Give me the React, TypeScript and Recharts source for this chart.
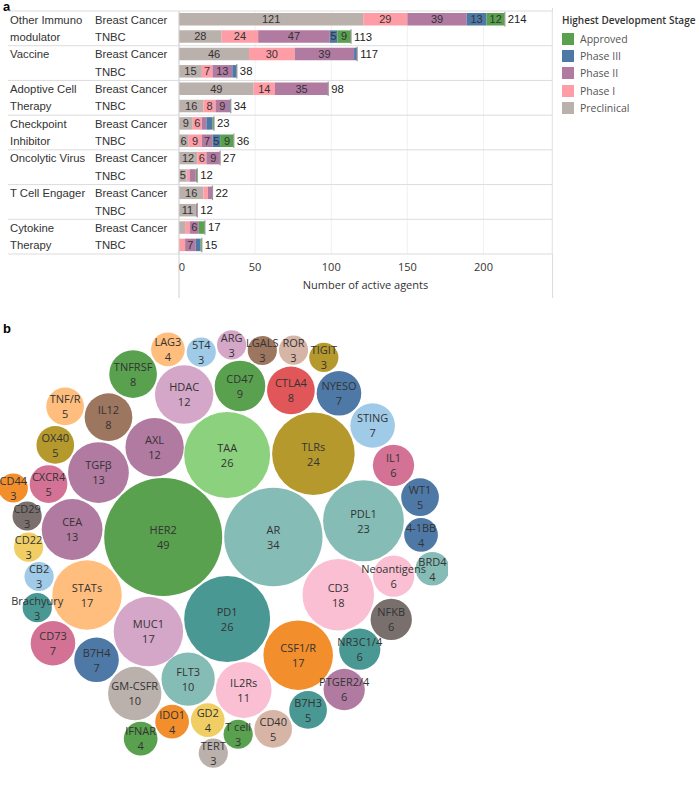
import { BarChart, Bar, XAxis, YAxis, CartesianGrid, LabelList, ScatterChart, Scatter, ZAxis } from 'recharts'

// ---- panel a data ----
const groups = [
  ['Other Immuno', 'modulator'],
  ['Vaccine'],
  ['Adoptive Cell', 'Therapy'],
  ['Checkpoint', 'Inhibitor'],
  ['Oncolytic Virus'],
  ['T Cell Engager'],
  ['Cytokine', 'Therapy'],
]
const indications = ['Breast Cancer', 'TNBC']
const stages = ['Approved', 'Phase III', 'Phase II', 'Phase I', 'Preclinical']
// one value per row: group 1 BC, group 1 TNBC, group 2 BC, ...
const preclinical = [121, 28, 46, 15, 49, 16, 9, 6, 12, 5, 16, 11, 4, 0]
const phase1 = [29, 24, 30, 7, 14, 8, 6, 9, 6, 2, 3, 0, 3, 4]
const phase2 = [39, 47, 39, 13, 35, 9, 3, 7, 9, 4, 3, 1, 6, 7]
const phase3 = [13, 5, 2, 3, 0, 1, 4, 5, 0, 0, 0, 0, 0, 3]
const approved = [12, 9, 0, 0, 0, 0, 1, 9, 0, 1, 0, 0, 4, 1]
const xTicks = [0, 50, 100, 150, 200]

const stageColors: Record<string, string> = {
  Approved: '#59A14F',
  'Phase III': '#4E79A7',
  'Phase II': '#B07AA1',
  'Phase I': '#FF9DA7',
  Preclinical: '#BAB0AC',
}

// ---- panel b data (largest first) ----
const targets = ['HER2', 'AR', 'TAA', 'PD1', 'TLRs', 'PDL1', 'CD3', 'CSF1/R', 'MUC1', 'STATs', 'CEA', 'TGFβ', 'AXL', 'HDAC', 'IL2Rs', 'FLT3', 'GM-CSFR', 'CD47', 'CTLA4', 'IL12', 'TNFRSF', 'B7H4', 'CD73', 'NYESO', 'STING', 'IL1', 'Neoantigens', 'NFKB', 'NR3C1/4', 'PTGER2/4', 'B7H3', 'CD40', 'CXCR4', 'OX40', 'TNF/R', 'WT1', '4-1BB', 'BRD4', 'GD2', 'IDO1', 'IFNAR', 'LAG3', '5T4', 'ARG', 'Brachyury', 'CB2', 'CD22', 'CD29', 'CD44', 'LGALS', 'ROR', 'T cell', 'TERT', 'TIGIT']
const targetCounts = [49, 34, 26, 26, 24, 23, 18, 17, 17, 17, 13, 13, 12, 12, 11, 10, 10, 9, 8, 8, 8, 7, 7, 7, 7, 6, 6, 6, 6, 6, 5, 5, 5, 5, 5, 5, 4, 4, 4, 4, 4, 4, 3, 3, 3, 3, 3, 3, 3, 3, 3, 3, 3, 3]
const targetColors = ['#59A14F', '#86BCB6', '#8CD17D', '#499894', '#B6992D', '#86BCB6', '#FABFD2', '#F28E2B', '#D4A6C8', '#FFBE7D', '#B07AA1', '#B07AA1', '#B07AA1', '#D4A6C8', '#FABFD2', '#86BCB6', '#BAB0AC', '#59A14F', '#E15759', '#9D7660', '#59A14F', '#4E79A7', '#D37295', '#4E79A7', '#A0CBE8', '#D37295', '#FABFD2', '#79706E', '#499894', '#B07AA1', '#499894', '#D7B5A6', '#D37295', '#B6992D', '#FFBE7D', '#4E79A7', '#4E79A7', '#86BCB6', '#F1CE63', '#F28E2B', '#59A14F', '#FFBE7D', '#A0CBE8', '#D4A6C8', '#499894', '#A0CBE8', '#F1CE63', '#79706E', '#F28E2B', '#9D7660', '#D7B5A6', '#59A14F', '#BAB0AC', '#B6992D']

const seriesKeys = ['preclinical', 'phase1', 'phase2', 'phase3', 'approved']

const rows = groups.flatMap((g, gi) =>
  indications.map((ind, ii) => {
    const i = gi * 2 + ii
    return {
      id: `${gi}-${ii}`,
      group: gi,
      sub: ii,
      ind,
      preclinical: preclinical[i],
      phase1: phase1[i],
      phase2: phase2[i],
      phase3: phase3[i],
      approved: approved[i],
      total: preclinical[i] + phase1[i] + phase2[i] + phase3[i] + approved[i],
    }
  })
)

const ROW_FONT = '"Liberation Sans", Arial, sans-serif'
const TAB_FONT = '"Open Sans", "Noto Sans", sans-serif'
const CHART_H = 300
const TOP = 11
const PLOT_BOTTOM = 254
const PLOT_RIGHT = 552
const band = (PLOT_BOTTOM - TOP) / rows.length

const RowTick = (props: any) => {
  const { y, payload } = props
  const row = rows.find((r) => r.id === payload.value)
  if (!row) return null
  const last = row.group === groups.length - 1 && row.sub === 1
  return (
    <g>
      {row.sub === 0 && (
        <line x1={8} x2={PLOT_RIGHT} y1={y - band / 2} y2={y - band / 2} stroke="#dcdcdc" />
      )}
      {last && <line x1={8} x2={PLOT_RIGHT} y1={y + band / 2} y2={y + band / 2} stroke="#dcdcdc" />}
      {row.sub === 0 &&
        groups[row.group].map((t, k) => (
          <text key={k} x={10} y={y + k * band} dy="0.35em" fontSize={11.3} fill="#333" fontFamily={ROW_FONT}>
            {t}
          </text>
        ))}
      <text x={95} y={y} dy="0.35em" fontSize={11.3} fill="#333" fontFamily={ROW_FONT}>
        {row.ind}
      </text>
    </g>
  )
}

const AxisTick = (props: any) => {
  const { x, y, payload } = props
  return (
    <g>
      {payload.value === 0 && <line x1={x} x2={x} y1={y - 10} y2={y + 36} stroke="#cfcfcf" />}
      <text x={payload.value === 0 ? x + 3 : x} y={y + 5} dy="0.35em" textAnchor="middle" fontSize={11} fill="#333" fontFamily={TAB_FONT}>
        {payload.value}
      </text>
    </g>
  )
}

const SegLabel = (props: any) => {
  const vb = props.viewBox ?? props
  const { x, y, width, height } = vb
  const v = Number(props.value)
  if (!v || v < 5) return null
  return (
    <text x={x + width / 2} y={y + height / 2} dy="0.35em" textAnchor="middle" fontSize={11} fill="#333" fontFamily={ROW_FONT}>
      {v}
    </text>
  )
}

// the total is drawn by the last non-empty segment of each row
const makeTotal = (key: string) => (props: any) => {
  const vb = props.viewBox ?? props
  const { x, y, width, height } = vb
  const idx = Math.floor((y + height / 2 - TOP) / band)
  const row: any = rows[idx]
  if (!row) return null
  const lastKey = [...seriesKeys].reverse().find((k) => row[k] > 0)
  if (lastKey !== key) return null
  const end = x + width
  return (
    <g>
      <line x1={end} x2={end} y1={y - 1} y2={y + height + 1} stroke="#9a9a9a" strokeWidth={1.2} />
      <text x={end + 3} y={y + height / 2} dy="0.35em" fontSize={11.3} fill="#222" fontFamily={ROW_FONT}>
        {row.total}
      </text>
    </g>
  )
}

// ---- front-chain bubble packing: each new bubble is put against the chain
// bubble nearest the starting point and the one after it ----
type Circ = { r: number; x: number; y: number }
type PNode = { c: Circ; next: PNode; prev: PNode }

const MAX_R = 59
const GAP = 1

function place(b: Circ, a: Circ, c: Circ) {
  const dx = b.x - a.x
  const dy = b.y - a.y
  const d2 = dx * dx + dy * dy
  if (d2) {
    let a2 = a.r + c.r
    a2 *= a2
    let b2 = b.r + c.r
    b2 *= b2
    if (a2 > b2) {
      const x = (d2 + b2 - a2) / (2 * d2)
      const y = Math.sqrt(Math.max(0, b2 / d2 - x * x))
      c.x = b.x - x * dx - y * dy
      c.y = b.y - x * dy + y * dx
    } else {
      const x = (d2 + a2 - b2) / (2 * d2)
      const y = Math.sqrt(Math.max(0, a2 / d2 - x * x))
      c.x = a.x + x * dx - y * dy
      c.y = a.y + x * dy + y * dx
    }
  } else {
    c.x = a.x + c.r
    c.y = a.y
  }
}

// a little overlap of the padded circles is tolerated
function intersects(a: Circ, b: Circ) {
  const dr = a.r + b.r - 3 * GAP
  const dx = b.x - a.x
  const dy = b.y - a.y
  return dr > 0 && dr * dr > dx * dx + dy * dy
}

function packCircles(circles: Circ[]) {
  const n = circles.length
  if (!n) return
  const c0 = circles[0]
  c0.x = 0
  c0.y = 0
  if (n < 2) return
  const c1 = circles[1]
  c1.x = c0.r + c1.r
  c1.y = 0
  if (n < 3) return
  // start point: where the two biggest bubbles touch
  const ox = c0.r
  const oy = -0.01
  const dist = (c: Circ) => (c.x - ox) ** 2 + (c.y - oy) ** 2
  const c2 = circles[2]
  place(c1, c0, c2)
  let na = { c: c0 } as PNode
  let nb = { c: c1 } as PNode
  const nc = { c: c2 } as PNode
  na.next = nb
  nb.prev = na
  nb.next = nc
  nc.prev = nb
  nc.next = na
  na.prev = nc
  pack: for (let i = 3; i < n; i++) {
    const ci = circles[i]
    place(na.c, nb.c, ci)
    const node = { c: ci } as PNode
    let j = nb.next
    let k = na.prev
    let sj = nb.c.r
    let sk = na.c.r
    do {
      if (sj <= sk) {
        if (intersects(j.c, ci)) {
          nb = j
          na.next = nb
          nb.prev = na
          i--
          continue pack
        }
        sj += j.c.r
        j = j.next
      } else {
        if (intersects(k.c, ci)) {
          na = k
          na.next = nb
          nb.prev = na
          i--
          continue pack
        }
        sk += k.c.r
        k = k.prev
      }
    } while (j !== k.next)
    node.prev = na
    node.next = nb
    na.next = node
    nb.prev = node
    let m = node
    let best = dist(node.c)
    let cur = node.next
    while (cur !== node) {
      const d = dist(cur.c)
      if (d < best - 1e-9) {
        best = d
        m = cur
      }
      cur = cur.next
    }
    na = m
    nb = m.next
  }
}

const BUB_W = 448
const BUB_H = 452
const maxCount = Math.max(...targetCounts)

const order = targets.map((_, i) => i).sort((a, b) => targetCounts[b] - targetCounts[a])
const packed: Circ[] = order.map((i) => ({ r: MAX_R * Math.sqrt(targetCounts[i] / maxCount) + GAP, x: 0, y: 0 }))
packCircles(packed)
const minX = Math.min(...packed.map((c) => c.x - c.r))
const maxX = Math.max(...packed.map((c) => c.x + c.r))
const minY = Math.min(...packed.map((c) => c.y - c.r))
const maxY = Math.max(...packed.map((c) => c.y + c.r))
const midX = (minX + maxX) / 2
const midY = (minY + maxY) / 2

const bubbles = order.map((ti, k) => ({
  name: targets[ti],
  value: targetCounts[ti],
  color: targetColors[ti],
  x: packed[k].x - midX,
  y: packed[k].y - midY,
}))

const BubbleShape = (props: any) => {
  const { cx, cy, payload } = props
  const r = Math.sqrt(Math.max(Number(props.size) || 0, 0) / Math.PI)
  return <circle cx={cx} cy={cy} r={r} fill={payload.color} />
}

const BubbleText = (props: any) => {
  const { cx, cy, payload } = props
  return (
    <g fontFamily={TAB_FONT} fontSize={11} fill="#333" textAnchor="middle">
      <text x={cx} y={cy - 7} dy="0.35em">
        {payload.name}
      </text>
      <text x={cx} y={cy + 8} dy="0.35em">
        {payload.value}
      </text>
    </g>
  )
}

export default function App() {
  return (
    <div>
      <div style={{ position: 'absolute', left: 3, top: -1, fontFamily: ROW_FONT, fontWeight: 700, fontSize: 13 }}>a</div>
      <div style={{ position: 'absolute', left: 3, top: 321, fontFamily: ROW_FONT, fontWeight: 700, fontSize: 13 }}>b</div>
      <div style={{ position: 'absolute', left: PLOT_RIGHT, top: 8, height: 290, borderLeft: '1px solid #dcdcdc' }} />

      <div style={{ position: 'absolute', left: 0, top: 0 }}>
        <BarChart
          width={PLOT_RIGHT + 1}
          height={CHART_H}
          data={rows}
          layout="vertical"
          margin={{ top: TOP, right: 1, left: 0, bottom: CHART_H - PLOT_BOTTOM - 40 }}
          barSize={12.5}
        >
          <CartesianGrid horizontal={false} stroke="#f1f1f1" />
          <XAxis
            type="number"
            domain={[0, 245]}
            ticks={xTicks}
            axisLine={false}
            tickLine={false}
            height={40}
            tick={AxisTick}
            label={{ value: 'Number of active agents', position: 'insideBottom', offset: 5, fontSize: 11, fill: '#333', fontFamily: TAB_FONT }}
          />
          <YAxis
            type="category"
            dataKey="id"
            width={179}
            interval={0}
            tickLine={false}
            axisLine={{ stroke: '#cfcfcf' }}
            tick={RowTick}
          />
          <Bar dataKey="preclinical" stackId="s" fill={stageColors.Preclinical} isAnimationActive={false}>
            <LabelList dataKey="preclinical" content={SegLabel} />
            <LabelList dataKey="total" content={makeTotal('preclinical')} />
          </Bar>
          <Bar dataKey="phase1" stackId="s" fill={stageColors['Phase I']} isAnimationActive={false}>
            <LabelList dataKey="phase1" content={SegLabel} />
            <LabelList dataKey="total" content={makeTotal('phase1')} />
          </Bar>
          <Bar dataKey="phase2" stackId="s" fill={stageColors['Phase II']} isAnimationActive={false}>
            <LabelList dataKey="phase2" content={SegLabel} />
            <LabelList dataKey="total" content={makeTotal('phase2')} />
          </Bar>
          <Bar dataKey="phase3" stackId="s" fill={stageColors['Phase III']} isAnimationActive={false}>
            <LabelList dataKey="phase3" content={SegLabel} />
            <LabelList dataKey="total" content={makeTotal('phase3')} />
          </Bar>
          <Bar dataKey="approved" stackId="s" fill={stageColors.Approved} isAnimationActive={false}>
            <LabelList dataKey="approved" content={SegLabel} />
            <LabelList dataKey="total" content={makeTotal('approved')} />
          </Bar>
        </BarChart>
      </div>

      <div style={{ position: 'absolute', left: 562, top: 13, fontFamily: TAB_FONT, color: '#555', whiteSpace: 'nowrap' }}>
        <div style={{ fontSize: 10, fontWeight: 600, color: '#333', marginBottom: 3 }}>Highest Development Stage</div>
        {stages.map((s) => (
          <div key={s} style={{ display: 'flex', alignItems: 'center', height: 17.4, fontSize: 10.5 }}>
            <span style={{ width: 12, height: 12, background: stageColors[s], marginRight: 6, display: 'inline-block' }} />
            {s}
          </div>
        ))}
      </div>

      <div style={{ position: 'absolute', left: 0, top: 323 }}>
        <ScatterChart width={BUB_W} height={BUB_H} margin={{ top: 0, right: 0, bottom: 0, left: 0 }}>
          <XAxis type="number" dataKey="x" domain={[-BUB_W / 2, BUB_W / 2]} hide />
          <YAxis type="number" dataKey="y" domain={[-BUB_H / 2, BUB_H / 2]} hide />
          <ZAxis type="number" dataKey="value" domain={[0, maxCount]} range={[0, Math.PI * MAX_R * MAX_R]} />
          <Scatter data={bubbles} shape={BubbleShape} isAnimationActive={false} />
          <Scatter data={bubbles} shape={BubbleText} isAnimationActive={false} />
        </ScatterChart>
      </div>
    </div>
  )
}
